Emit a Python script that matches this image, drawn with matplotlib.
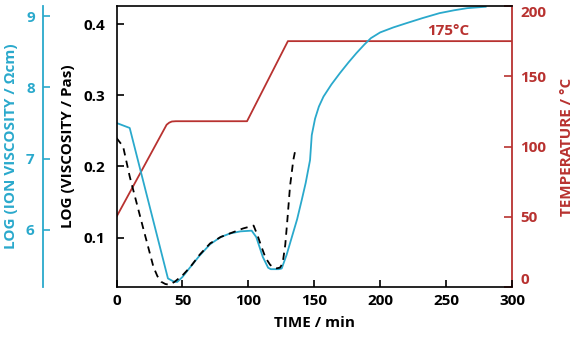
import matplotlib.pyplot as plt

# colours
ionColor = "#2aa9cc"
tempColor = "#b83230"
viscColor = "black"

# ion viscosity (cyan curve), log Ohm cm
ion_time = [0, 10, 39, 43, 46, 50, 56, 63, 71, 79, 86, 94, 102.5, 106, 111, 115, 117,
            123, 125.3, 129, 133, 137, 140.5, 143.5, 146.8, 148.1, 150.6, 153.5, 157,
            163, 169.5, 176, 182, 188, 193, 200, 210, 220, 232, 245, 256, 266, 280]
ion_value = [7.50, 7.43, 5.32, 5.28, 5.27, 5.34, 5.48, 5.64, 5.80, 5.90, 5.95, 5.98,
             5.99, 5.90, 5.62, 5.47, 5.45, 5.45, 5.46, 5.65, 5.90, 6.15, 6.42, 6.66,
             6.98, 7.33, 7.56, 7.73, 7.87, 8.04, 8.20, 8.35, 8.48, 8.60, 8.69, 8.77,
             8.84, 8.90, 8.97, 9.04, 9.08, 9.11, 9.13]

# viscosity (black dashed curve), log Pas
visc_time = [0, 5, 10, 20, 28, 31, 34, 37, 40, 44, 50, 56, 63, 71, 79, 86, 96, 100,
             104, 107, 110, 113, 116.5, 119, 121.5, 124, 126, 128, 129.6, 131.6, 134.1, 135.4]
visc_value = [0.240, 0.228, 0.186, 0.115, 0.059, 0.046, 0.038, 0.035, 0.034, 0.038,
              0.047, 0.059, 0.076, 0.092, 0.101, 0.106, 0.113, 0.115, 0.117, 0.103,
              0.087, 0.072, 0.062, 0.058, 0.057, 0.058, 0.064, 0.090, 0.125, 0.172,
              0.209, 0.221]

# temperature (red curve), deg C
temp_time = [0, 38, 40, 42, 45, 99, 130, 300]
temp_value = [50, 115.5, 117, 117.8, 118, 118, 175, 175]

time_ticks = [0, 50, 100, 150, 200, 250, 300]
visc_ticks = [0.1, 0.2, 0.3, 0.4]
ion_ticks = [6, 7, 8, 9]
temp_ticks = [0, 50, 100, 150, 200]

plt.rcParams["font.family"] = ["Open Sans", "DejaVu Sans"]
plt.rcParams["font.weight"] = "bold"

fig = plt.figure(figsize=(5.76, 3.38), dpi=100)
ax = fig.add_axes([0.2023, 0.1509, 0.6866, 0.8313])
ax_t = ax.twinx()
ax_ion = ax.twinx()

ax_t.set_zorder(1)
ax_ion.set_zorder(2)
ax.set_zorder(3)
ax.patch.set_visible(False)
ax_ion.patch.set_visible(False)

# temperature axis (right)
ax_t.plot(temp_time, temp_value, color=tempColor, lw=1.3)
ax_t.set_ylim(0, 200)
ax_t.set_yticks(temp_ticks)
ax_t.tick_params(axis="y", direction="in", length=6, width=1.2, colors=tempColor,
                 labelsize=11, pad=6)
for lab in ax_t.get_yticklabels():
    lab.set_fontweight("bold")
ax_t.get_yticklabels()[0].set_va("bottom")
ax_t.get_yticklabels()[-1].set_va("top")
for s in ["left", "top", "bottom"]:
    ax_t.spines[s].set_visible(False)
ax_t.spines["right"].set_color(tempColor)
ax_t.spines["right"].set_linewidth(1.3)
ax_t.set_ylabel("TEMPERATURE / \u00b0C", color=tempColor, fontsize=11,
                fontweight="bold", labelpad=10)
ax_t.text(252, 177, "175\u00b0C", color=tempColor, fontsize=11,
          fontweight="bold", ha="center", va="bottom")

# ion viscosity axis (outer left)
ax_ion.plot(ion_time, ion_value, color=ionColor, lw=1.3)
ax_ion.set_ylim(5.2, 9.14)
ax_ion.set_yticks(ion_ticks)
ax_ion.yaxis.set_ticks_position("left")
ax_ion.yaxis.set_label_position("left")
ax_ion.spines["left"].set_position(("axes", -0.186))
ax_ion.spines["left"].set_color(ionColor)
ax_ion.spines["left"].set_linewidth(1.3)
for s in ["right", "top", "bottom"]:
    ax_ion.spines[s].set_visible(False)
ax_ion.tick_params(axis="y", direction="in", length=5, width=1.2, colors=ionColor,
                   labelsize=11, pad=6)
ax_ion.set_ylabel("LOG (ION VISCOSITY / \u03a9cm)", color=ionColor, fontsize=11,
                  fontweight="bold", labelpad=6)

# viscosity axis (inner left) and time axis
ax.plot(visc_time, visc_value, color=viscColor, lw=1.3, linestyle=(0, (4, 3)))
ax.set_xlim(0, 300)
ax.set_ylim(0.0308, 0.4253)
ax.set_xticks(time_ticks)
ax.set_yticks(visc_ticks)
ax.set_yticklabels(["0.1", "0.2", "0.3", "0.4"])
ax.tick_params(axis="both", direction="in", length=5, width=1.2, labelsize=11)
ax.tick_params(axis="y", pad=8)
ax.tick_params(axis="x", pad=5)
ax.spines["right"].set_visible(False)
for s in ["left", "top", "bottom"]:
    ax.spines[s].set_linewidth(1.2)
ax.set_xlabel("TIME / min", fontsize=11, fontweight="bold", labelpad=6)
ax.set_ylabel("LOG (VISCOSITY / Pas)", fontsize=11, fontweight="bold", labelpad=6)

fig.savefig("out.png", dpi=100)
